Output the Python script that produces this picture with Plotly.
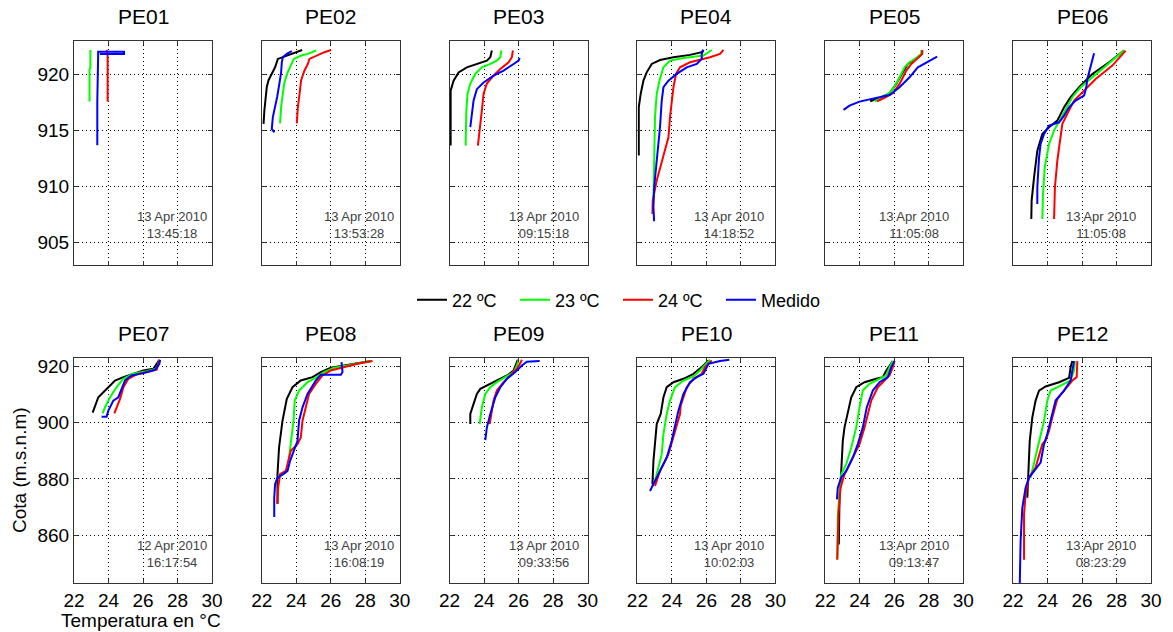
import plotly.graph_objects as go

# ---------------- data ----------------
stations = ["PE01", "PE02", "PE03", "PE04", "PE05", "PE06",
            "PE07", "PE08", "PE09", "PE10", "PE11", "PE12"]
dates = ["13 Apr 2010", "13 Apr 2010", "13 Apr 2010", "13 Apr 2010", "13 Apr 2010", "13 Apr 2010",
         "12 Apr 2010", "13 Apr 2010", "13 Apr 2010", "13 Apr 2010", "13 Apr 2010", "13 Apr 2010"]
times = ["13:45:18", "13:53:28", "09:15:18", "14:18:52", "11:05:08", "11:05:08",
         "16:17:54", "16:08:19", "09:33:56", "10:02:03", "09:13:47", "08:23:29"]
series_names = ["22 ºC", "23 ºC", "24 ºC", "Medido"]
series_colors = ["#000000", "#00ff00", "#ff0000", "#0000ff"]

x_ticks = [22, 24, 26, 28, 30]
y_ticks_top = [905, 910, 915, 920]
y_ticks_bottom = [860, 880, 900, 920]

# each station: [22 ºC, 23 ºC, 24 ºC, Medido]
pe01_temp = [[],
             [22.9, 22.9, 22.95, 22.95],
             [23.95, 23.95, 23.9],
             [23.35, 23.35, 23.4, 23.4, 24.9, 24.9, 23.5]]
pe01_cota = [[],
             [917.6, 920.5, 920.6, 922.2],
             [917.6, 921.6, 922.2],
             [913.7, 917.6, 921.7, 922.05, 922.05, 921.85, 921.85]]

pe02_temp = [[22.1, 22.15, 22.29, 22.39, 22.77, 22.93, 23.3, 23.7, 24.34],
             [23.06, 23.12, 23.22, 23.31, 23.5, 23.7, 23.86, 24.28, 24.67, 25.15],
             [24.03, 24.09, 24.19, 24.28, 24.47, 24.67, 24.76, 25.15, 25.63, 26.02],
             [22.73, 22.58, 22.64, 22.77, 22.89, 23.02, 23.12, 23.16, 23.22, 23.45, 23.74]]
pe02_cota = [[915.6, 916.8, 918.9, 919.5, 920.65, 921.4, 921.6, 921.85, 922.2],
             [915.65, 917.1, 918.3, 919.3, 920.2, 920.95, 921.4, 921.7, 921.85, 922.15],
             [915.65, 917.1, 918.3, 919.5, 920.35, 920.95, 921.4, 921.7, 922.0, 922.2],
             [914.85, 915.15, 916.2, 917.1, 918.0, 919.2, 920.2, 921.1, 921.55, 921.85, 922.1]]

pe03_temp = [[22.06, 22.06, 22.23, 22.52, 23.0, 23.58, 24.16, 24.36, 24.45],
             [22.93, 22.97, 23.04, 23.2, 23.49, 23.87, 24.36, 24.74, 24.94, 25.0],
             [23.64, 23.74, 23.87, 23.97, 24.16, 24.55, 24.94, 25.42, 25.61, 25.67],
             [23.2, 23.29, 23.39, 23.58, 23.97, 24.55, 25.13, 25.71, 26.0, 26.06]]
pe03_cota = [[913.66, 918.57, 919.46, 920.2, 920.65, 920.95, 921.25, 921.55, 922.15],
             [913.66, 916.8, 918.3, 919.2, 920.06, 920.65, 920.95, 921.25, 921.55, 922.15],
             [913.66, 915.3, 916.8, 918.3, 919.2, 919.9, 920.5, 921.1, 921.55, 922.15],
             [915.3, 916.5, 917.7, 918.7, 919.3, 919.9, 920.36, 920.95, 921.25, 921.5]]

pe04_temp = [[22.08, 22.08, 22.19, 22.35, 22.54, 22.83, 23.31, 24.09, 25.05, 25.73, 25.83],
             [22.93, 22.97, 23.02, 23.12, 23.28, 23.51, 23.89, 24.67, 25.83, 26.31],
             [22.87, 22.89, 23.12, 23.51, 23.8, 23.89, 23.99, 24.09, 24.24, 24.47, 25.05, 26.21, 26.79, 26.99],
             [22.97, 22.93, 22.97, 23.12, 23.31, 23.41, 23.51, 23.8, 24.28, 24.86, 25.44, 25.73, 25.73, 25.83]]
pe04_cota = [[912.77, 917.08, 918.27, 919.46, 920.2, 920.95, 921.3, 921.55, 921.76, 922.0, 922.2],
             [908.75, 911.73, 916.2, 918.27, 919.46, 920.65, 921.25, 921.49, 921.7, 922.2],
             [907.56, 908.75, 910.54, 912.62, 914.4, 916.2, 917.68, 918.87, 920.06, 920.65, 921.1, 921.55, 921.85, 922.2],
             [906.9, 908.15, 909.94, 912.32, 915.3, 917.68, 918.87, 919.46, 920.06, 920.65, 920.95, 921.4, 921.85, 922.2]]

pe05_temp = [[24.61, 25.15, 25.73, 26.12, 26.5, 26.79, 27.28, 27.62, 27.62],
             [24.86, 25.34, 25.83, 26.21, 26.6, 26.89, 27.28, 27.57, 27.57],
             [25.0, 25.44, 25.92, 26.31, 26.7, 26.99, 27.37, 27.62, 27.62],
             [23.06, 23.41, 23.99, 24.57, 25.15, 25.73, 26.31, 26.89, 27.37, 27.86, 28.49]]
pe05_cota = [[917.62, 917.92, 918.33, 919.17, 920.2, 920.95, 921.4, 921.85, 922.2],
             [917.62, 917.98, 918.51, 919.46, 920.65, 921.1, 921.49, 921.85, 922.2],
             [917.62, 917.92, 918.33, 919.17, 920.36, 920.95, 921.49, 921.85, 922.2],
             [916.85, 917.23, 917.59, 917.8, 917.98, 918.18, 918.87, 919.76, 920.65, 921.1, 921.6]]

pe06_temp = [[23.06, 23.08, 23.22, 23.41, 23.7, 24.09, 24.57, 24.96, 25.34, 25.83, 26.6, 27.57, 28.43],
             [23.7, 23.74, 23.84, 24.09, 24.38, 24.76, 25.05, 25.44, 25.92, 26.6, 27.57, 28.43],
             [24.38, 24.43, 24.57, 24.76, 24.86, 25.15, 25.54, 26.12, 26.79, 27.76, 28.53],
             [23.41, 23.41, 23.51, 23.6, 23.8, 24.09, 24.67, 24.96, 25.25, 25.63, 26.12, 26.25, 26.31, 26.5, 26.6, 26.7]]
pe06_cota = [[907.11, 908.75, 910.83, 913.21, 914.7, 915.3, 915.89, 917.08, 917.98, 918.87, 920.06, 921.1, 922.14],
             [907.11, 909.35, 911.73, 913.81, 915.0, 916.04, 916.79, 917.98, 918.87, 919.76, 920.95, 922.14],
             [907.11, 909.94, 912.32, 914.7, 915.6, 916.49, 917.68, 918.57, 919.61, 920.8, 922.14],
             [908.45, 909.94, 912.62, 913.81, 914.7, 915.45, 915.74, 916.34, 917.08, 917.68, 918.13, 918.87, 919.61, 920.65, 921.4, 921.9]]

pe07_temp = [[23.08, 23.41, 23.89, 24.38, 24.86, 25.44, 26.02, 26.6, 26.79, 26.95],
             [23.66, 23.8, 24.09, 24.47, 24.86, 25.44, 26.21, 26.79, 26.95],
             [24.34, 24.47, 24.67, 24.86, 25.15, 25.63, 26.21, 26.79, 26.95],
             [23.6, 23.89, 23.99, 24.28, 24.57, 24.76, 24.96, 25.34, 26.02, 26.7, 26.95, 26.99]]
pe07_cota = [[903.57, 909.05, 912.0, 915.0, 916.2, 917.38, 918.57, 919.17, 920.95, 922.4],
             [903.33, 905.48, 909.05, 912.62, 915.6, 917.38, 918.33, 919.17, 922.14],
             [903.33, 905.48, 908.45, 912.62, 915.6, 917.14, 917.98, 918.81, 922.14],
             [902.14, 902.14, 904.29, 907.86, 909.05, 912.02, 915.0, 916.79, 917.62, 918.81, 920.95, 922.38]]

pe08_temp = [[22.91, 22.91, 23.0, 23.2, 23.45, 23.78, 24.26, 24.94, 25.42, 26.0, 26.77, 27.35, 27.93, 28.32],
             [23.58, 23.68, 23.84, 23.91, 24.16, 24.65, 25.13, 25.61, 26.19, 26.97, 27.74, 28.32],
             [22.91, 22.95, 23.06, 23.39, 23.68, 24.07, 24.26, 24.36, 24.55, 24.74, 25.13, 25.52, 26.0, 26.77, 27.55, 28.42],
             [22.72, 22.72, 22.77, 22.91, 23.29, 23.49, 23.64, 23.87, 24.07, 24.16, 24.36, 24.65, 25.13, 25.42, 26.58, 26.68, 26.62]]
pe08_cota = [[871.19, 881.67, 891.19, 900.71, 908.45, 912.62, 915.0, 916.19, 917.98, 919.52, 920.36, 920.95, 921.55, 921.9],
             [887.62, 893.57, 900.71, 907.86, 911.43, 914.4, 915.95, 917.98, 919.52, 920.36, 921.19, 921.9],
             [871.19, 876.9, 881.67, 882.86, 890.0, 892.38, 894.76, 900.71, 905.48, 910.24, 913.81, 916.79, 918.57, 919.76, 920.95, 921.9],
             [866.43, 873.33, 878.1, 880.48, 881.9, 882.86, 886.43, 890.0, 893.57, 900.71, 905.48, 910.24, 915.0, 917.02, 917.02, 917.98, 921.55]]

pe09_temp = [[23.2, 23.2, 23.39, 23.58, 23.78, 24.26, 24.74, 25.32, 25.71, 25.9, 25.95],
             [23.74, 23.87, 24.07, 24.36, 24.74, 25.23, 25.71, 25.9, 26.0],
             [24.32, 24.45, 24.55, 24.74, 25.13, 25.52, 25.9, 26.1, 26.19],
             [24.07, 24.16, 24.36, 24.65, 24.94, 25.32, 25.81, 26.19, 26.48, 27.22]]
pe09_cota = [[899.52, 903.1, 906.67, 910.24, 912.02, 913.57, 915.0, 916.79, 918.57, 921.55, 922.38],
             [899.52, 905.48, 910.24, 912.62, 914.4, 916.19, 917.98, 920.36, 922.38],
             [899.52, 904.29, 907.86, 911.43, 914.4, 916.79, 919.17, 921.19, 922.38],
             [893.81, 898.33, 903.1, 909.05, 912.62, 915.6, 917.98, 920.36, 921.67, 921.9]]

pe10_temp = [[22.87, 22.93, 23.12, 23.35, 23.51, 23.7, 24.09, 24.67, 25.25, 25.73, 26.12],
             [23.02, 23.41, 23.51, 23.7, 23.89, 24.18, 24.67, 25.25, 25.63, 26.02, 26.21],
             [23.02, 23.31, 23.8, 24.09, 24.28, 24.47, 24.51, 24.86, 25.25, 25.73, 25.92, 26.31],
             [22.73, 23.12, 23.7, 23.99, 24.18, 24.38, 24.67, 25.05, 25.44, 25.83, 26.12, 26.79, 27.33]]
pe10_cota = [[878.1, 886.43, 899.52, 903.1, 909.05, 912.62, 914.4, 915.6, 917.38, 919.76, 922.14],
             [879.29, 888.81, 895.95, 903.1, 907.86, 912.62, 915.0, 916.43, 918.57, 920.95, 922.38],
             [877.5, 882.86, 888.81, 894.76, 899.52, 903.1, 906.07, 912.62, 915.6, 917.38, 919.76, 922.14],
             [875.71, 880.48, 887.62, 893.57, 898.33, 904.29, 910.24, 914.4, 916.19, 917.38, 920.95, 921.9, 922.38]]

pe11_temp = [[22.79, 22.83, 22.93, 23.02, 23.12, 23.31, 23.51, 23.8, 24.28, 24.96, 25.34, 25.54, 25.73, 25.92],
             [22.7, 22.73, 22.93, 23.22, 23.51, 23.8, 23.99, 24.18, 24.57, 25.15, 25.54, 25.73, 25.92],
             [22.7, 22.77, 22.89, 23.12, 23.51, 23.99, 24.28, 24.47, 24.67, 25.05, 25.44, 25.73, 25.92, 26.02],
             [22.68, 22.73, 22.93, 23.22, 23.6, 23.89, 24.18, 24.41, 24.76, 25.15, 25.63, 25.83, 26.02]]
pe11_cota = [[856.67, 873.33, 882.86, 893.57, 898.33, 903.1, 909.05, 912.62, 914.4, 915.6, 916.19, 918.57, 920.36, 921.9],
             [851.31, 867.38, 881.67, 885.24, 891.19, 898.33, 905.48, 911.43, 913.81, 915.6, 916.79, 919.76, 921.9],
             [851.31, 867.38, 876.9, 881.67, 886.43, 892.38, 898.33, 903.1, 907.86, 912.62, 915.0, 916.79, 919.76, 921.9],
             [872.74, 876.9, 880.48, 882.86, 887.62, 892.38, 898.33, 905.48, 911.43, 914.4, 916.19, 919.76, 921.9]]

pe12_temp = [[22.83, 22.89, 22.97, 23.12, 23.31, 23.51, 23.89, 24.67, 25.25, 25.34, 25.44],
             [23.02, 23.31, 23.6, 23.8, 23.99, 24.18, 24.76, 25.34, 25.54, 25.59],
             [22.64, 22.64, 22.73, 22.93, 23.31, 23.7, 23.89, 24.09, 24.28, 24.57, 24.96, 25.44, 25.69, 25.73],
             [22.39, 22.44, 22.54, 22.73, 22.93, 23.22, 23.6, 23.8, 23.99, 24.18, 24.47, 24.96, 25.34, 25.44, 25.54]]
pe12_cota = [[873.33, 881.67, 893.57, 901.9, 907.86, 911.43, 912.86, 914.4, 915.95, 919.76, 921.9],
             [880.48, 887.62, 894.76, 900.71, 907.86, 911.43, 913.21, 915.0, 918.57, 921.9],
             [851.31, 867.38, 874.52, 880.48, 884.05, 892.38, 893.57, 897.14, 901.9, 908.45, 911.43, 915.0, 916.19, 921.9],
             [842.0, 857.86, 869.76, 876.9, 880.48, 882.86, 885.83, 892.38, 895.95, 900.71, 907.86, 911.43, 915.0, 918.57, 921.9]]

all_temp = [pe01_temp, pe02_temp, pe03_temp, pe04_temp, pe05_temp, pe06_temp,
            pe07_temp, pe08_temp, pe09_temp, pe10_temp, pe11_temp, pe12_temp]
all_cota = [pe01_cota, pe02_cota, pe03_cota, pe04_cota, pe05_cota, pe06_cota,
            pe07_cota, pe08_cota, pe09_cota, pe10_cota, pe11_cota, pe12_cota]

# ---------------- layout geometry ----------------
W, H = 1173, 632
FONT = "Liberation Sans, Arial, sans-serif"
col_left = [74 + 187.8 * i for i in range(6)]
pw = 138
rows_px = [(41, 265), (358, 583)]
date_frac = [0.708, 0.705, 0.686, 0.665, 0.643, 0.638]

fig = go.Figure()
annotations = []
layout_axes = {}

for k in range(12):
    r, c = divmod(k, 6)
    n = k + 1
    xa = "x" if n == 1 else f"x{n}"
    ya = "y" if n == 1 else f"y{n}"
    for s in range(4):
        t = all_temp[k][s]
        z = all_cota[k][s]
        fig.add_trace(go.Scatter(
            x=t, y=z, mode="lines", xaxis=xa, yaxis=ya,
            name=series_names[s], legendgroup=series_names[s],
            showlegend=(k == 1),
            line=dict(color=series_colors[s], width=2),
            hoverinfo="skip"))
    x0 = col_left[c] / W
    x1 = (col_left[c] + pw) / W
    top, bot = rows_px[r]
    y0 = 1 - bot / H
    y1 = 1 - top / H
    axis_common = dict(
        showline=True, mirror="ticks", linecolor="#333333", linewidth=1,
        ticks="inside", ticklen=4, tickcolor="#333333",
        showgrid=True, gridcolor="#000000", griddash="1px,3px", gridwidth=1,
        zeroline=False, automargin=False,
        tickfont=dict(family=FONT, size=19, color="#000000"),
    )
    xkey = "xaxis" if n == 1 else f"xaxis{n}"
    ykey = "yaxis" if n == 1 else f"yaxis{n}"
    layout_axes[xkey] = dict(axis_common, domain=[x0, x1], range=[22, 30],
                             tickvals=x_ticks, anchor=ya,
                             showticklabels=(r == 1))
    layout_axes[ykey] = dict(axis_common, domain=[y0, y1],
                             range=[903, 923] if r == 0 else [843, 923],
                             tickvals=y_ticks_top if r == 0 else y_ticks_bottom,
                             anchor=xa, showticklabels=(c == 0))
    # station title
    annotations.append(dict(
        text=stations[k], xref="paper", yref="paper",
        x=(col_left[c] + pw / 2) / W, y=1 - (top - 25) / H,
        xanchor="center", yanchor="middle", showarrow=False,
        font=dict(family=FONT, size=21, color="#000000")))
    # date / time label
    annotations.append(dict(
        text=f"{dates[k]}<br>{times[k]}", xref="paper", yref="paper",
        x=(col_left[c] + pw * date_frac[c]) / W,
        y=1 - (top + (184 if r == 0 else 196)) / H,
        xanchor="center", yanchor="middle", showarrow=False,
        font=dict(family=FONT, size=13, color="#404040")))

# axis titles
annotations.append(dict(
    text="Cota (m.s.n.m)", xref="paper", yref="paper",
    x=19 / W, y=1 - 470 / H, textangle=-90, showarrow=False,
    xanchor="center", yanchor="middle",
    font=dict(family=FONT, size=19, color="#000000")))
annotations.append(dict(
    text="Temperatura en °C", xref="paper", yref="paper",
    x=141 / W, y=1 - 620 / H, showarrow=False,
    xanchor="center", yanchor="middle",
    font=dict(family=FONT, size=19, color="#000000")))

fig.update_layout(
    width=W, height=H, autosize=False,
    margin=dict(l=0, r=0, t=0, b=0),
    paper_bgcolor="#ffffff", plot_bgcolor="#ffffff",
    font=dict(family=FONT, color="#000000"),
    annotations=annotations,
    showlegend=True,
    legend=dict(orientation="h", x=618 / W, y=1 - 300 / H,
                xanchor="center", yanchor="middle",
                bgcolor="rgba(0,0,0,0)",
                font=dict(family=FONT, size=18, color="#000000"),
                itemwidth=30, tracegroupgap=0,
                entrywidth=58, entrywidthmode="pixels"),
    **layout_axes,
)

fig.write_html("out.html", config={"displayModeBar": False},
               post_script="document.body.style.margin='0px';document.body.style.overflow='hidden';")
